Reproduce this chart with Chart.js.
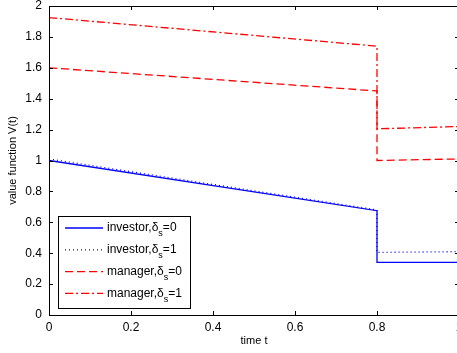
<!DOCTYPE html>
<html>
<head>
<meta charset="utf-8">
<script src="https://cdn.jsdelivr.net/npm/chart.js@4"></script>
<style>
  html, body { margin: 0; padding: 0; background: #fff; overflow: hidden; }
</style>
</head>
<body>
<canvas id="chart" width="462" height="353"></canvas>
<script>
// time grid: jump at t = 0.8
const timeT = [0, 0.8, 0.8, 1];
const investor0 = [1.0, 0.675, 0.34, 0.34];
const investor1 = [1.01, 0.68, 0.405, 0.41];
const manager0 = [1.6, 1.45, 1.0, 1.01];
const manager1 = [1.925, 1.74, 1.205, 1.22];

const xTicks = [0, 0.2, 0.4, 0.6, 0.8, 1];
const yTicks = [0, 0.2, 0.4, 0.6, 0.8, 1, 1.2, 1.4, 1.6, 1.8, 2];

const legendNames = ["investor", "investor", "manager", "manager"];
const legendDelta = ["0", "1", "0", "1"];

const pts = (ys) => timeT.map((t, i) => ({ x: t, y: ys[i] }));
const font = "Liberation Sans, Arial, Helvetica, sans-serif";

// matlab style box, inward ticks and legend
const boxPlugin = {
    id: "box",
    afterDraw(chart) {
        const { ctx, chartArea: a, scales } = chart;
        ctx.save();
        ctx.strokeStyle = "#000";
        ctx.lineWidth = 1;
        ctx.strokeRect(a.left + 0.5, a.top + 0.5, a.right - a.left, a.bottom - a.top);
        ctx.beginPath();
        xTicks.forEach(v => {
            const x = Math.round(scales.x.getPixelForValue(v)) + 0.5;
            ctx.moveTo(x, a.bottom); ctx.lineTo(x, a.bottom - 4);
            ctx.moveTo(x, a.top); ctx.lineTo(x, a.top + 4);
        });
        yTicks.forEach(v => {
            const y = Math.round(scales.y.getPixelForValue(v)) + 0.5;
            ctx.moveTo(a.left, y); ctx.lineTo(a.left + 4, y);
            ctx.moveTo(a.right, y); ctx.lineTo(a.right - 4, y);
        });
        ctx.stroke();

        // legend
        const bx = 58, by = 216, bw = 132, bh = 92;
        ctx.fillStyle = "#fff";
        ctx.fillRect(bx, by, bw, bh);
        ctx.strokeRect(bx + 0.5, by + 0.5, bw, bh);
        chart.data.datasets.forEach((ds, i) => {
            const y = 228 + i * 21.8;
            ctx.beginPath();
            ctx.strokeStyle = ds.borderColor;
            ctx.lineWidth = ds.borderWidth;
            ctx.setLineDash(ds.borderDash || []);
            ctx.moveTo(65, y); ctx.lineTo(103, y);
            ctx.stroke();
            ctx.setLineDash([]);
            ctx.fillStyle = "#000";
            ctx.textBaseline = "middle";
            ctx.font = "12px " + font;
            let tx = 107;
            const s1 = legendNames[i] + ",\u03b4";
            ctx.fillText(s1, tx, y);
            tx += ctx.measureText(s1).width;
            ctx.font = "9px " + font;
            ctx.fillText("s", tx, y + 6);
            tx += ctx.measureText("s").width;
            ctx.font = "12px " + font;
            ctx.fillText("=" + legendDelta[i], tx, y);
        });
        ctx.restore();
    }
};

new Chart(document.getElementById("chart"), {
    type: "line",
    data: {
        datasets: [
            { data: pts(investor0), borderColor: "#0000ff", borderWidth: 1.3 },
            { data: pts(investor1), borderColor: "#0000ff", borderWidth: 1.3, borderDash: [1, 3] },
            { data: pts(manager0), borderColor: "#ff0000", borderWidth: 1.3, borderDash: [8, 4] },
            { data: pts(manager1), borderColor: "#ff0000", borderWidth: 1.3, borderDash: [8, 3, 2, 3] }
        ]
    },
    options: {
        responsive: false,
        animation: false,
        devicePixelRatio: 1,
        elements: { point: { radius: 0 }, line: { tension: 0, fill: false } },
        layout: { padding: { left: 0, right: 3, top: 6, bottom: 0 } },
        plugins: { legend: { display: false }, tooltip: { enabled: false } },
        scales: {
            x: {
                type: "linear", min: 0, max: 1,
                afterFit: s => { s.height = 38; s.paddingLeft = 0; s.paddingRight = 0; },
                afterBuildTicks: s => { s.ticks = xTicks.map(v => ({ value: v })); },
                grid: { display: false, drawTicks: false },
                border: { display: false },
                ticks: { color: "#000", padding: 5, font: { family: font, size: 12 },
                         callback: v => String(+v.toFixed(1)) },
                title: { display: true, text: "time t", color: "#000",
                         font: { family: font, size: 11 }, padding: { top: 0, bottom: 5 } }
            },
            y: {
                type: "linear", min: 0, max: 2,
                afterFit: s => { s.width = 49; s.paddingTop = 0; s.paddingBottom = 0; },
                afterBuildTicks: s => { s.ticks = yTicks.map(v => ({ value: v })); },
                grid: { display: false, drawTicks: false },
                border: { display: false },
                ticks: { color: "#000", padding: 7, font: { family: font, size: 12 },
                         callback: v => String(+v.toFixed(1)) },
                title: { display: true, text: "value function V(t)", color: "#000",
                         font: { family: font, size: 11 }, padding: { top: 6, bottom: 0 } }
            }
        }
    },
    plugins: [boxPlugin]
});
</script>
</body>
</html>
